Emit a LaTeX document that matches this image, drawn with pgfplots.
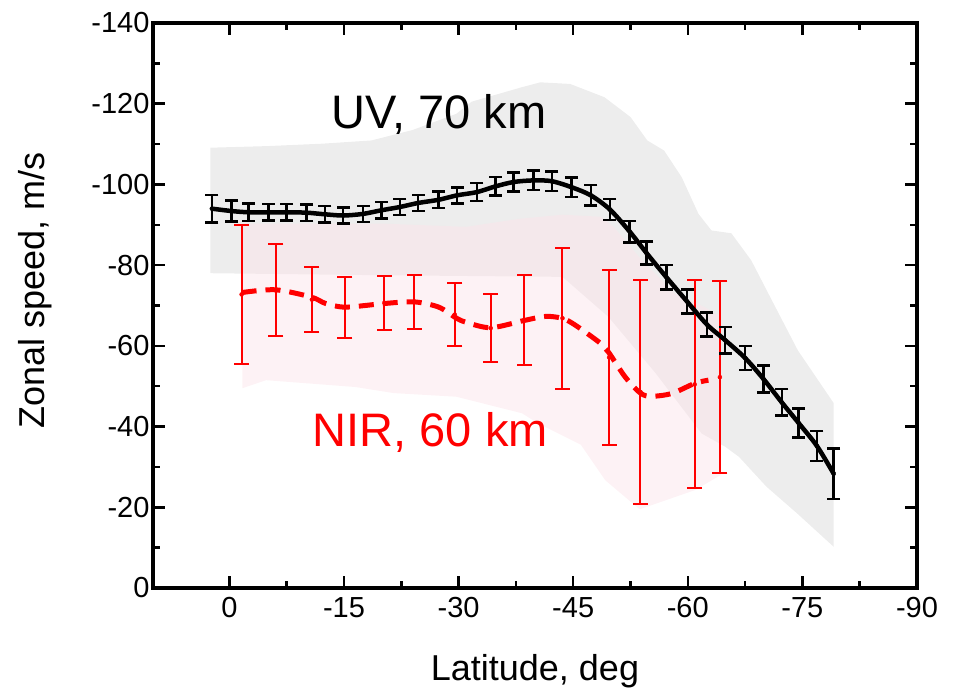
\documentclass[border=0pt]{standalone}
\usepackage{pgfplots}
\usepackage{pgfplotstable}
\pgfplotsset{compat=1.18}
\usepackage{fontspec}
\setmainfont{Liberation Sans}
\definecolor{uvband}{RGB}{237,237,237}
\definecolor{nirband}{RGB}{251,229,235}
\pgfplotstableread{
x y e t b
-1.6 -72.75 17.25 -90.0 -55.5
-6.1 -73.9 11.4 -85.3 -62.5
-10.8 -71.45 8.05 -79.5 -63.4
-15.1 -69.55 7.55 -77.1 -62.0
-20.3 -70.6 6.7 -77.3 -63.9
-24.2 -70.9 6.6 -77.5 -64.3
-29.5 -67.75 7.85 -75.6 -59.9
-34.2 -64.4 8.5 -72.9 -55.9
-38.6 -66.35 11.15 -77.5 -55.2
-43.6 -66.85 17.45 -84.3 -49.4
-49.7 -57.15 21.75 -78.9 -35.4
-53.8 -48.6 27.8 -76.4 -20.8
-60.9 -50.45 25.75 -76.2 -24.7
-64.2 -52.25 23.75 -76.0 -28.5
}\nirbars
\pgfplotstableread{
x y e t b
2.3 -94.0 3.4 -97.4 -90.6
-0.3 -93.4 2.6 -96.0 -90.8
-2.5 -93.1 2.2 -95.3 -90.9
-5.1 -93.1 2.0 -95.1 -91.1
-7.5 -93.1 2.0 -95.1 -91.1
-10.1 -93.0 2.0 -95.0 -91.0
-12.5 -92.6 2.0 -94.6 -90.6
-14.9 -92.3 2.0 -94.3 -90.3
-17.5 -92.7 2.0 -94.7 -90.7
-19.9 -93.6 2.0 -95.6 -91.6
-22.3 -94.4 2.0 -96.4 -92.4
-24.7 -95.4 2.0 -97.4 -93.4
-27.4 -96.2 2.0 -98.2 -94.2
-29.8 -97.3 2.0 -99.3 -95.3
-32.4 -98.1 2.2 -100.3 -95.9
-34.8 -99.5 2.3 -101.8 -97.2
-37.2 -100.6 2.4 -103.0 -98.2
-39.8 -101.0 2.4 -103.4 -98.6
-42.2 -100.8 2.4 -103.2 -98.4
-44.8 -99.3 2.4 -101.7 -96.9
-47.3 -97.3 2.5 -99.8 -94.8
-49.8 -93.8 2.6 -96.4 -91.2
-52.4 -88.3 2.7 -91.0 -85.6
-54.6 -83.0 2.9 -85.9 -80.1
-57.2 -77.0 3.0 -80.0 -74.0
-59.9 -71.0 3.0 -74.0 -68.0
-62.5 -65.3 3.0 -68.3 -62.3
-64.9 -61.4 3.3 -64.7 -58.1
-67.5 -57.0 3.0 -60.0 -54.0
-69.9 -51.8 3.3 -55.1 -48.5
-72.3 -46.0 3.3 -49.3 -42.7
-74.5 -40.9 3.6 -44.5 -37.3
-76.9 -35.2 3.7 -38.9 -31.5
-79.1 -28.3 6.3 -34.6 -22.0
}\uvbars
\begin{document}
\begin{tikzpicture}
\useasboundingbox (0,0) rectangle (959bp,690bp);
\begin{axis}[
  at={(153bp,102bp)}, anchor=south west,
  scale only axis, width=764bp, height=565bp,
  x dir=reverse, y dir=reverse,
  xmin=-90, xmax=10, ymin=-140, ymax=0,
  xtick={0,-15,-30,-45,-60,-75,-90},
  xticklabels={0,-15,-30,-45,-60,-75,-90},
  ytick={-140,-120,-100,-80,-60,-40,-20,0},
  yticklabels={-140,-120,-100,-80,-60,-40,-20,0},
  minor x tick num=1, minor y tick num=1,
  tick align=inside,
  major tick length=12bp, minor tick length=7bp,
  every tick/.style={black, line width=2.5bp},
  axis line style={line width=3.5bp},
  tick label style={font=\fontsize{29bp}{35bp}\selectfont},
  xticklabel style={yshift=-6bp},
  xlabel={Latitude, deg}, ylabel={Zonal speed, m/s},
  label style={font=\fontsize{36bp}{43bp}\selectfont},
  xlabel style={at={(axis description cs:0.5,-0.163)}, anchor=base},
  ylabel style={at={(axis description cs:-0.1545,0.527)}, anchor=center},
]
% UV range band
\addplot[fill=uvband, draw=none, forget plot] coordinates {
(2.5,-78.0) (2.5,-109.1) (-5,-109.5) (-12.2,-110.1) (-18.6,-110.9) (-24,-113.5) (-29.7,-117.5) (-31.7,-120.5) (-38.3,-124.1) (-40.7,-125.3) (-44.6,-124.9) (-49.1,-121.6) (-52.5,-116.7) (-54.7,-110.9) (-56.9,-108.4) (-59.2,-101.8) (-61.4,-92.7) (-63.1,-88.6) (-65.7,-87.9) (-68.3,-81.2) (-71.0,-71.3) (-74.4,-58.9) (-79.1,-45.8) (-79.1,-10.2) (-74.3,-18.5) (-70.3,-25.1) (-66.7,-32.5) (-64.9,-35.0) (-61.8,-38.3) (-55.8,-53.2) (-49.6,-67.2) (-43.6,-77.1) (-20,-77.5)
} -- cycle;
% NIR range band
\addplot[fill=nirband, fill opacity=0.5, draw=none, forget plot] coordinates {
(-1.7,-49.5) (-1.7,-90.3) (-20,-90.3) (-31,-89.5) (-38,-91.5) (-43.6,-92.5) (-48.6,-92) (-50.3,-89.5) (-54.0,-81.2) (-58.3,-73) (-62.2,-69.6) (-64.3,-67.3) (-64.3,-28.0) (-61.0,-24.3) (-53.7,-19.5) (-49.2,-26.7) (-46,-35.5) (-40.4,-40.8) (-38.3,-43.3) (-29.7,-47.4) (-21.5,-48.3) (-16.5,-49.8) (-4.8,-51.5)
} -- cycle;
% NIR error bars
\addplot[red, only marks, mark=none, forget plot,
  error bars/.cd, y dir=both, y explicit,
  error bar style={line width=2bp, red}]
table[x=x, y=y, y error=e] {\nirbars};
\addplot[red, only marks, mark=-, mark size=7.5bp, mark options={line width=2bp}, forget plot] table[x=x, y=t] {\nirbars};
\addplot[red, only marks, mark=-, mark size=7.5bp, mark options={line width=2bp}, forget plot] table[x=x, y=b] {\nirbars};
% NIR mean
\addplot[red, line width=5bp, dash pattern=on 15bp off 9bp, smooth, mark=none] table {
x y
-1.6 -73.2
-6.0 -73.9
-10.7 -72.1
-12.6 -70.5
-15.2 -69.6
-20.3 -70.5
-24.2 -70.9
-27.4 -69.6
-29.6 -67.0
-30.9 -65.9
-34.2 -64.5
-38.6 -66.3
-41.4 -67.3
-43.6 -66.8
-45.3 -65.1
-48.6 -60.6
-49.6 -58.5
-51.8 -52.3
-53.8 -48.3
-55.2 -47.5
-57.9 -48.2
-60.9 -50.7
-62.7 -51.5
};
% UV mean
\addplot[black, line width=4.5bp, smooth, mark=none] table[x=x, y=y] {\uvbars};
% UV error bars
\addplot[black, only marks, mark=none, forget plot,
  error bars/.cd, y dir=both, y explicit,
  error bar style={line width=2.5bp, black}]
table[x=x, y=y, y error=e] {\uvbars};
\addplot[black, only marks, mark=-, mark size=6.5bp, mark options={line width=2.5bp}, forget plot] table[x=x, y=t] {\uvbars};
\addplot[black, only marks, mark=-, mark size=6.5bp, mark options={line width=2.5bp}, forget plot] table[x=x, y=b] {\uvbars};
\node[anchor=base, font=\fontsize{47bp}{56bp}\selectfont] at (axis cs:-27.4,-113.8) {UV, 70 km};
\node[anchor=base, red, font=\fontsize{47bp}{56bp}\selectfont] at (axis cs:-26.3,-35.0) {NIR, 60 km};
\end{axis}
\end{tikzpicture}
\end{document}
